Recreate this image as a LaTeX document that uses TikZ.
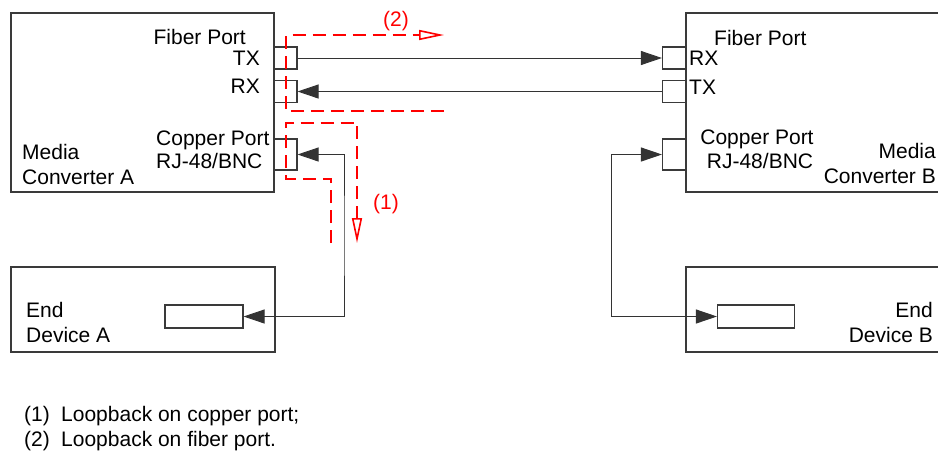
\documentclass[tikz,border=0pt]{standalone}
\usepackage{fontspec}
\setmainfont{Liberation Sans}
\usepackage{tikz}
\usetikzlibrary{arrows.meta, calc, positioning}
\usepackage{xcolor}
\definecolor{mInk}{HTML}{3A3A3A}
\definecolor{mLoop}{HTML}{FF0000}
\newcommand{\lbl}{\fontsize{21}{25}\selectfont}

\begin{document}
\begin{tikzpicture}[x=1pt, y=-1pt,
  unit/.style={draw=mInk, line width=1.1pt, inner sep=0pt},
  port/.style={unit, minimum width=23pt, minimum height=22pt},
  txt/.style={font=\lbl, inner sep=0pt, text=black},
  link/.style={draw=black!80, line width=0.9pt, >={Triangle[length=21pt, width=14pt]}},
  loopback/.style={mLoop, line width=2pt, dash pattern=on 13pt off 7pt,
                   -{Triangle[open, length=25pt, width=10pt, line width=1.6pt]}}]
  \useasboundingbox (0,0) rectangle (938,451);
  \clip (0,0) rectangle (938,451);

  % the two converters and the two end devices
  \node[unit, minimum width=263pt, minimum height=179pt] (convA) at (142.5,102.5) {};
  \node[unit, minimum width=263pt, minimum height=179pt] (convB) at (817.5,102.5) {};
  \node[unit, minimum width=264pt, minimum height=85pt] (devA) at (143,309.5) {};
  \node[unit, minimum width=264pt, minimum height=85pt] (devB) at (818,309.5) {};

  % ports
  \node[port] (txA) at (285.5,58) {};
  \node[port] (rxA) at (285.5,91.5) {};
  \node[port, minimum height=31pt] (cuA) at (285.5,154.5) {};
  \node[port] (rxB) at (674,58) {};
  \node[port] (txB) at (674,91.5) {};
  \node[port, minimum height=31pt] (cuB) at (674,154.5) {};
  \node[port, minimum width=78pt, minimum height=23pt] (pA) at (204,316.5) {};
  \node[port, minimum width=77pt, minimum height=23pt] (pB) at (756,316.5) {};

  % texts of converter A
  \node[txt, anchor=base east] (fibA) at (246,44) {Fiber Port};
  \node[txt, anchor=base east] (ltxA) at (260,65) {TX};
  \node[txt, anchor=base east] (lrxA) at (260,93) {RX};
  \node[txt, anchor=base west] (cpA) at (156,145) {Copper Port};
  \node[txt, anchor=base west] (rjA) at (156,168) {RJ-48/BNC};
  \node[txt, anchor=base west] (mA) at (22,159) {Media};
  \node[txt, anchor=base west] (cvA) at (22,184) {Converter A};
  % texts of converter B
  \node[txt, anchor=base west] (fibB) at (714,45) {Fiber Port};
  \node[txt, anchor=base west] (lrxB) at (689,65) {RX};
  \node[txt, anchor=base west] (ltxB) at (689,94) {TX};
  \node[txt, anchor=base] (cpB) at (757,144) {Copper Port};
  \node[txt, anchor=base] (rjB) at (760,168) {RJ-48/BNC};
  \node[txt, anchor=base east] (mB) at (936,158) {Media};
  \node[txt, anchor=base east] (cvB) at (936,183) {Converter B};
  % texts of the end devices
  \node[txt, anchor=base west] (eA) at (26,317) {End};
  \node[txt, anchor=base west] (dA) at (26,342) {Device A};
  \node[txt, anchor=base east] (eB) at (933,317) {End};
  \node[txt, anchor=base east] (dB) at (933,342) {Device B};

  % fiber and copper links
  \draw[link, ->] (txA.east) -- (rxB.west);
  \draw[link, ->] (txB.west) -- (rxA.east);
  \coordinate (bendA) at (344,236);
  \coordinate (bendB) at (611.5,236);
  \draw[link, <->] (cuA.east) -| (bendA) |- (pA.east);
  \draw[link, <->] (cuB.west) -| (bendB) |- (pB.west);

  % loopback paths
  \coordinate (f1) at (444,110.5);
  \coordinate (f2) at (286,110.5);
  \coordinate (f3) at (286,35);
  \coordinate (f4) at (444,35);
  \draw[loopback] (f1) -- (f2) -- (f3) -- (f4);
  \coordinate (c1) at (331,243);
  \coordinate (c2) at (331,178.5);
  \coordinate (c3) at (286,178.5);
  \coordinate (c4) at (286,122.5);
  \coordinate (c5) at (357,122.5);
  \coordinate (c6) at (357,243);
  \draw[loopback] (c1) -- (c2) -- (c3) -- (c4) -- (c5) -- (c6);
  \node[txt, text=mLoop] (n2) at (396,21) {(2)};
  \node[txt, text=mLoop] (n1) at (386,204) {(1)};

  % legend
  \node[txt, anchor=base west] (k1) at (24,421) {(1)};
  \node[txt, anchor=base west] (t1) at (61,421) {Loopback on copper port;};
  \node[txt, anchor=base west] (k2) at (24,446) {(2)};
  \node[txt, anchor=base west] (t2) at (61,446) {Loopback on fiber port.};
\end{tikzpicture}
\end{document}
